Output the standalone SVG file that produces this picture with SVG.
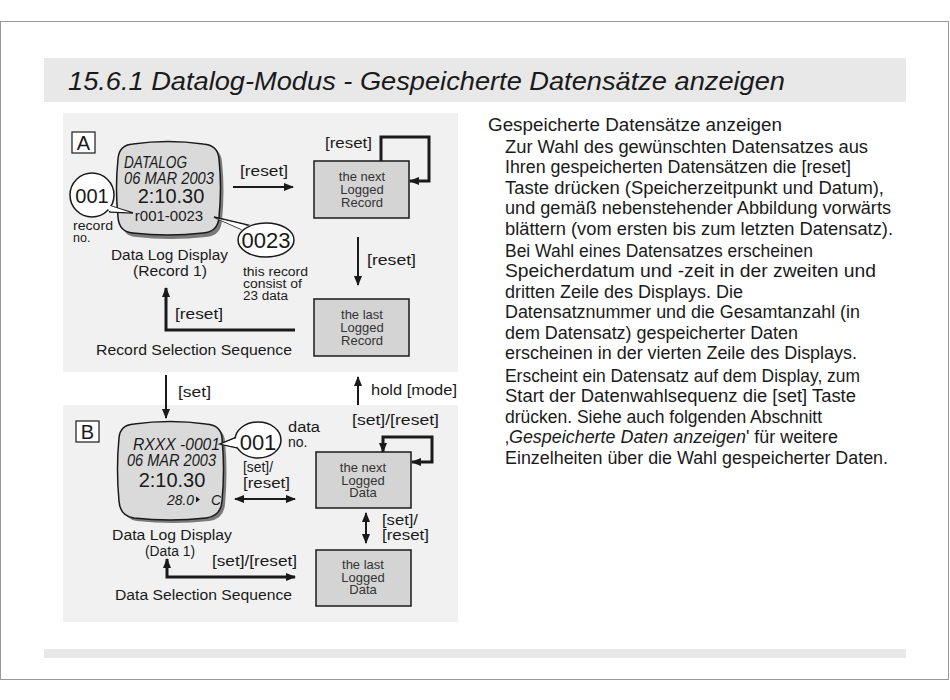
<svg xmlns="http://www.w3.org/2000/svg" width="950" height="700" viewBox="0 0 950 700">
<style>
text{font-family:"Liberation Sans",Arial,sans-serif;fill:#1a1a1a}
.lbl{font-size:14px}
.sm{font-size:12.5px}
.box{fill:#d4d4d4;stroke:#1a1a1a;stroke-width:1.5}
.bt{font-size:13px;text-anchor:middle;fill:#333}
.lcd{fill:#dadada;stroke:#1a1a1a;stroke-width:1.5}
.shd{fill:#7a7a7a}
.it{font-style:italic}
.body{font-size:18.3px}
.con{fill:none;stroke:#1a1a1a;stroke-width:2}
.bold{stroke-width:3}
.bub{fill:#fff;stroke:#1a1a1a;stroke-width:1.5}
</style>
<defs>
<marker id="ah" viewBox="0 0 10 8" refX="9" refY="4" markerWidth="10" markerHeight="8" markerUnits="userSpaceOnUse" orient="auto-start-reverse">
<path d="M0,0 L10,4 L0,8 z" fill="#1a1a1a"/>
</marker>
</defs>
<rect x="0.5" y="21.5" width="948" height="658" fill="#fff" stroke="#999" stroke-width="1"/>
<rect x="44" y="58" width="862" height="44" fill="#e8e8e8"/>
<text x="68" y="90" font-size="26" class="it" textLength="717" lengthAdjust="spacingAndGlyphs">15.6.1 Datalog-Modus - Gespeicherte Datensätze anzeigen</text>
<rect x="44" y="649" width="862" height="9" fill="#e8e8e8"/>

<rect x="63" y="113" width="395" height="259" fill="#f1f1f1"/>
<rect x="63" y="405" width="395" height="217" fill="#f1f1f1"/>

<g id="panelA-label">
<rect x="72" y="132" width="23" height="21" fill="#fff" stroke="#1a1a1a" stroke-width="1.2"/>
<text x="83.5" y="150" font-size="20" text-anchor="middle">A</text>
</g>

<g id="displayA">
<path class="shd" d="M136,147 Q171,142 206,147 Q221,148 222,162 Q225,191 222,220 Q221,236 206,237 Q171,241 136,237 Q122,236 121,220 Q118,191 121,162 Q122,148 136,147 Z"/>
<path class="lcd" d="M133,144 Q168,139 203,144 Q218,145 219,159 Q222,188 219,217 Q218,232 203,233 Q168,237 133,233 Q119,232 118,217 Q115,188 118,159 Q119,145 133,144 Z"/>
<text x="124" y="168" font-size="16" class="it" textLength="63" lengthAdjust="spacingAndGlyphs">DATALOG</text>
<text x="124" y="184" font-size="16" class="it" textLength="90" lengthAdjust="spacingAndGlyphs">06 MAR 2003</text>
<text x="171" y="203" font-size="20" text-anchor="middle">2:10.30</text>
<text x="169" y="221" font-size="15" text-anchor="middle">r001-0023</text>
</g>

<g id="bubbleA001">
<path class="bub" d="M107,205 L133,213 L110,212 Z"/>
<circle class="bub" cx="92" cy="195" r="22"/>
<path d="M106,204.5 L130,212.6 L109,211 Z" fill="#fff"/>
<text x="92" y="203" font-size="20" text-anchor="middle">001</text>
<text x="73" y="230" class="sm" textLength="40" lengthAdjust="spacingAndGlyphs">record</text>
<text x="73" y="242" class="sm">no.</text>
</g>

<g id="bubbleA0023">
<path class="bub" d="M241,229 L214,217 L248,225 Z"/>
<ellipse class="bub" cx="266" cy="240" rx="28" ry="17"/>
<path d="M242,229.5 L217,218.5 L248,226 Z" fill="#fff"/>
<text x="266" y="248" font-size="22" text-anchor="middle">0023</text>
<text x="243" y="276" class="sm" textLength="65" lengthAdjust="spacingAndGlyphs">this record</text>
<text x="243" y="288" class="sm" textLength="59" lengthAdjust="spacingAndGlyphs">consist of</text>
<text x="243" y="300" class="sm" textLength="45" lengthAdjust="spacingAndGlyphs">23 data</text>
</g>

<g id="captionA">
<text x="111" y="260" class="lbl" textLength="117" lengthAdjust="spacingAndGlyphs">Data Log Display</text>
<text x="133" y="276" class="lbl" textLength="74" lengthAdjust="spacingAndGlyphs">(Record 1)</text>
<text x="96" y="355" class="lbl" textLength="196" lengthAdjust="spacingAndGlyphs">Record Selection Sequence</text>
</g>

<g id="nextRecord">
<rect class="box" x="314" y="161" width="95" height="57"/>
<text class="bt" x="362" y="181">the next</text>
<text class="bt" x="362" y="194">Logged</text>
<text class="bt" x="362" y="207">Record</text>
</g>

<g id="lastRecord">
<rect class="box" x="314" y="299" width="95" height="57"/>
<text class="bt" x="362" y="319">the last</text>
<text class="bt" x="362" y="332">Logged</text>
<text class="bt" x="362" y="345">Record</text>
</g>

<g id="panelB-label">
<rect x="76" y="421" width="23" height="21" fill="#fff" stroke="#1a1a1a" stroke-width="1.2"/>
<text x="87.5" y="439" font-size="20" text-anchor="middle">B</text>
</g>

<g id="displayB">
<path class="shd" d="M137,427 Q173,422 209,427 Q224,428 225,441 Q228,472 225,504 Q224,519 209,521 Q173,525 137,521 Q123,519 122,504 Q119,472 122,441 Q123,428 137,427 Z"/>
<path class="lcd" d="M134,424 Q170,419 206,424 Q221,425 222,438 Q225,469 222,501 Q221,516 206,518 Q170,522 134,518 Q120,516 119,501 Q116,469 119,438 Q120,425 134,424 Z"/>
<text x="133" y="450" font-size="16" class="it" textLength="87" lengthAdjust="spacingAndGlyphs">RXXX  -0001</text>
<text x="127" y="466" font-size="16" class="it" textLength="89" lengthAdjust="spacingAndGlyphs">06 MAR 2003</text>
<text x="172" y="487" font-size="20" text-anchor="middle">2:10.30</text>
<text x="167" y="505" font-size="14" class="it" textLength="27" lengthAdjust="spacingAndGlyphs">28.0</text>
<path d="M196,496.5 L200,499.5 L196,502.5 Z" fill="#1a1a1a"/>
<text x="211" y="505" font-size="14" class="it">C</text>
</g>

<g id="bubbleB001">
<path class="bub" d="M237,437 L220,444 L238,448 Z"/>
<ellipse class="bub" cx="258" cy="440" rx="23" ry="18"/>
<path d="M238,437.5 L222,444 L239,447.5 Z" fill="#fff"/>
<text x="258" y="450" font-size="22" text-anchor="middle">001</text>
<text x="288" y="432" class="lbl" textLength="32" lengthAdjust="spacingAndGlyphs">data</text>
<text x="288" y="447" class="lbl">no.</text>
</g>

<g id="captionB">
<text x="112" y="540" class="lbl" textLength="120" lengthAdjust="spacingAndGlyphs">Data Log Display</text>
<text x="145" y="556" class="lbl" textLength="50" lengthAdjust="spacingAndGlyphs">(Data 1)</text>
<text x="115" y="600" class="lbl" textLength="177" lengthAdjust="spacingAndGlyphs">Data Selection Sequence</text>
</g>

<g id="nextData">
<rect class="box" x="316" y="452" width="95" height="56"/>
<text class="bt" x="363" y="472">the next</text>
<text class="bt" x="363" y="485">Logged</text>
<text class="bt" x="363" y="497">Data</text>
</g>

<g id="lastData">
<rect class="box" x="316" y="550" width="95" height="56"/>
<text class="bt" x="363" y="569">the last</text>
<text class="bt" x="363" y="582">Logged</text>
<text class="bt" x="363" y="594">Data</text>
</g>

<g id="connectors">
<path class="con" d="M233,187 H293" marker-end="url(#ah)"/>
<path class="con bold" d="M381,161 V137 H429 V181 H410" marker-end="url(#ah)"/>
<path class="con" d="M358,237 V285" marker-end="url(#ah)"/>
<path class="con bold" d="M295,330 H166 V288" marker-end="url(#ah)"/>
<path class="con" d="M166,375 V418" marker-end="url(#ah)"/>
<path class="con" d="M358,405 V377" marker-end="url(#ah)"/>
<path class="con bold" d="M383,452 V437 H432 V462 H412" marker-start="url(#ah)" marker-end="url(#ah)"/>
<path class="con" d="M235,499 H295" marker-start="url(#ah)" marker-end="url(#ah)"/>
<path class="con" d="M366,513 V543" marker-start="url(#ah)" marker-end="url(#ah)"/>
<path class="con bold" d="M295,577 H167 V559" marker-start="url(#ah)" marker-end="url(#ah)"/>
<text x="240" y="176" class="lbl" textLength="48" lengthAdjust="spacingAndGlyphs">[reset]</text>
<text x="325" y="148" class="lbl" textLength="47" lengthAdjust="spacingAndGlyphs">[reset]</text>
<text x="367" y="265" class="lbl" textLength="49" lengthAdjust="spacingAndGlyphs">[reset]</text>
<text x="175" y="319" class="lbl" textLength="48" lengthAdjust="spacingAndGlyphs">[reset]</text>
<text x="178" y="397" class="lbl" textLength="33" lengthAdjust="spacingAndGlyphs">[set]</text>
<text x="371" y="395" class="lbl" textLength="86" lengthAdjust="spacingAndGlyphs">hold [mode]</text>
<text x="352" y="425" class="lbl" textLength="87" lengthAdjust="spacingAndGlyphs">[set]/[reset]</text>
<text x="243" y="472" class="lbl" textLength="30" lengthAdjust="spacingAndGlyphs">[set]/</text>
<text x="243" y="488" class="lbl" textLength="47" lengthAdjust="spacingAndGlyphs">[reset]</text>
<text x="382" y="525" class="lbl" textLength="36" lengthAdjust="spacingAndGlyphs">[set]/</text>
<text x="382" y="540" class="lbl" textLength="47" lengthAdjust="spacingAndGlyphs">[reset]</text>
<text x="212" y="566" class="lbl" textLength="85" lengthAdjust="spacingAndGlyphs">[set]/[reset]</text>
</g>

<g id="description">
<text x="488" y="131" class="body" textLength="294" lengthAdjust="spacingAndGlyphs">Gespeicherte Datensätze anzeigen</text>
<text x="505" y="153" class="body" textLength="363" lengthAdjust="spacingAndGlyphs">Zur Wahl des gewünschten Datensatzes aus</text>
<text x="505" y="173" class="body" textLength="346" lengthAdjust="spacingAndGlyphs">Ihren gespeicherten Datensätzen die [reset]</text>
<text x="505" y="194" class="body" textLength="379" lengthAdjust="spacingAndGlyphs">Taste drücken (Speicherzeitpunkt und Datum),</text>
<text x="505" y="214" class="body" textLength="386" lengthAdjust="spacingAndGlyphs">und gemäß nebenstehender Abbildung vorwärts</text>
<text x="505" y="235" class="body" textLength="388" lengthAdjust="spacingAndGlyphs">blättern (vom ersten bis zum letzten Datensatz).</text>
<text x="505" y="257" class="body" textLength="308" lengthAdjust="spacingAndGlyphs">Bei Wahl eines Datensatzes erscheinen</text>
<text x="505" y="277" class="body" textLength="371" lengthAdjust="spacingAndGlyphs">Speicherdatum und -zeit in der zweiten und</text>
<text x="505" y="298" class="body" textLength="238" lengthAdjust="spacingAndGlyphs">dritten Zeile des Displays. Die</text>
<text x="505" y="318" class="body" textLength="355" lengthAdjust="spacingAndGlyphs">Datensatznummer und die Gesamtanzahl (in</text>
<text x="505" y="339" class="body" textLength="293" lengthAdjust="spacingAndGlyphs">dem Datensatz) gespeicherter Daten</text>
<text x="505" y="359" class="body" textLength="352" lengthAdjust="spacingAndGlyphs">erscheinen in der vierten Zeile des Displays.</text>
<text x="505" y="382" class="body" textLength="355" lengthAdjust="spacingAndGlyphs">Erscheint ein Datensatz auf dem Display, zum</text>
<text x="505" y="402" class="body" textLength="351" lengthAdjust="spacingAndGlyphs">Start der Datenwahlsequenz die [set] Taste</text>
<text x="505" y="423" class="body" textLength="317" lengthAdjust="spacingAndGlyphs">drücken. Siehe auch folgenden Abschnitt</text>
<text x="505" y="443" class="body" textLength="333" lengthAdjust="spacingAndGlyphs">‚<tspan class="it">Gespeicherte Daten anzeigen</tspan>' für weitere</text>
<text x="505" y="464" class="body" textLength="383" lengthAdjust="spacingAndGlyphs">Einzelheiten über die Wahl gespeicherter Daten.</text>
</g>
</svg>
